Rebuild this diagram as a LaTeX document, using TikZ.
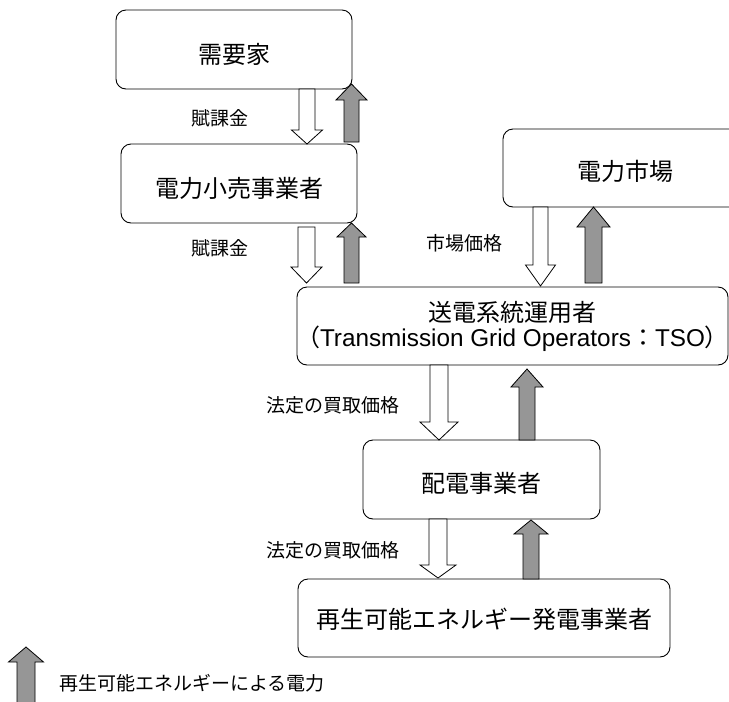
\documentclass[tikz,border=0pt]{standalone}
\usepackage{fontspec}
\setmainfont{Noto Sans CJK JP}
\newfontfamily\latinfont{Liberation Sans}
\newfontfamily\jpalt[RawFeature=+palt]{Noto Sans CJK JP}
\definecolor{arrowgray}{RGB}{150,150,150}
\newcommand{\blockarr}[7]{% style, x, tip y, head base y, tail y, shaft half width, head half width
  \draw[#1] (#2-#6,#5) -- (#2-#6,#4) -- (#2-#7,#4) -- (#2,#3) -- (#2+#7,#4) -- (#2+#6,#4) -- (#2+#6,#5) -- cycle;}
\begin{document}
\begin{tikzpicture}[x=1pt,y=-1pt,
  boxbase/.style={draw, rounded corners=10pt, line width=0.9pt, fill=white, inner sep=0pt,
    font=\fontsize{24}{25}\selectfont},
  box/.style={boxbase, text depth=0pt},
  lbl/.style={inner sep=0pt, font=\fontsize{19}{20}\selectfont},
  hollow/.style={draw=black, fill=white, line width=0.8pt},
  power/.style={draw=black, fill=arrowgray, line width=0.8pt}]
\useasboundingbox (0,0) rectangle (729,702);
\clip (0,0) rectangle (729,702);
% boxes
\node[box, text height=28pt, minimum width=236pt, minimum height=79pt] (consumer) at (234,49.5) {需要家};
\node[box, text height=27pt, minimum width=236pt, minimum height=79pt] (retail) at (239,183.5) {電力小売事業者};
\node[box, text height=24pt, minimum width=244pt, minimum height=78pt] (market) at (625,168) {電力市場};
\node[boxbase, minimum width=431pt, minimum height=78pt, align=center] (tso) at (512.5,326)
  {送電系統運用者\\{\jpalt （}{\fontsize{24.3}{25}\latinfont Transmission Grid Operators}：{\fontsize{24.3}{25}\latinfont TSO}{\jpalt ）}};
\node[box, text height=25pt, minimum width=237pt, minimum height=79pt] (dist) at (481.5,479.5) {配電事業者};
\node[box, text height=20pt, minimum width=372pt, minimum height=78pt] (gen) at (484,618) {再生可能エネルギー発電事業者};
% labels
\node[lbl] (l1) at (220,118) {賦課金};
\node[lbl] (l2) at (220,248) {賦課金};
\node[lbl] (l3) at (464.5,243) {市場価格};
\node[lbl] (l4) at (333,405) {法定の買取価格};
\node[lbl] (l5) at (333,550) {法定の買取価格};
\node[lbl, anchor=west] (leg) at (59,683) {再生可能エネルギーによる電力};
% hollow (money) arrows
\blockarr{hollow}{307}{144}{130}{89}{8}{15.5}
\blockarr{hollow}{306.5}{283}{267}{227}{8.5}{15.5}
\blockarr{hollow}{540.5}{286}{265}{207}{7.5}{15}
\blockarr{hollow}{439}{440}{422}{365}{9}{19}
\blockarr{hollow}{438}{578}{565}{519}{9}{18}
% gray (power) arrows
\blockarr{power}{351.5}{84}{100}{142}{7.5}{15.5}
\blockarr{power}{351.5}{223}{237}{283}{7.5}{14.5}
\blockarr{power}{593.5}{207}{227}{283}{8.5}{16.5}
\blockarr{power}{527}{369}{387}{440}{8}{16}
\blockarr{power}{531}{520}{534}{579}{8}{17}
\blockarr{power}{26}{647}{662}{704}{9}{17.5}
\end{tikzpicture}
\end{document}
